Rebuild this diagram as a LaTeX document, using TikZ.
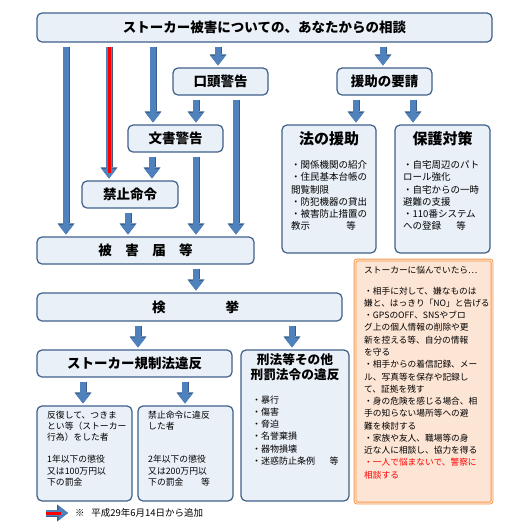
\documentclass[tikz,border=0pt]{standalone}
\usepackage{fontspec}
\setmainfont{Noto Sans CJK JP}
\usetikzlibrary{arrows.meta}
\definecolor{boxline}{HTML}{3E5F8A}
\definecolor{boxfill}{HTML}{EAF0F8}
\definecolor{arrowfill}{HTML}{4F81BD}
\definecolor{arrowline}{HTML}{385D8A}
\definecolor{notefill}{HTML}{FDE5D5}
\definecolor{noteline}{HTML}{F79646}
\tikzset{
  box/.style={draw=boxline, fill=boxfill, line width=1.2pt, rounded corners=5pt, inner sep=0pt},
  boxtitle/.style={font=\bfseries\fontsize{13.5}{16}\selectfont},
  bigtitle/.style={font=\bfseries\fontsize{15}{18}\selectfont, inner sep=0pt},
  listtext/.style={font=\fontsize{9.5}{12.3}\selectfont, align=left, anchor=base west, inner sep=0pt},
  smalltext/.style={font=\fontsize{8.8}{11}\selectfont, align=left, anchor=base west, inner sep=0pt},
  notebox/.style={draw=noteline, double=notefill!60!white, double distance=1pt, line width=0.9pt, fill=notefill, rounded corners=2pt},
  blockarrow/.style={draw=arrowfill, line width=5.5pt, shorten <=4pt, shorten >=2pt,
    -{Triangle[length=9.5pt,width=15pt,line width=0pt]},
    preaction={draw=arrowline, line width=7pt, -{Triangle[length=11pt,width=17pt,line width=0pt]}}},
  redarrow/.style={blockarrow, postaction={draw=red, line width=3pt, -, shorten >=7pt}}
}
\begin{document}
\begin{tikzpicture}[x=1pt,y=-1pt]
\useasboundingbox (0,0) rectangle (521,531);
\node[box, boxtitle, minimum width=455pt, minimum height=29pt] (consult) at (264.5,27.5) {ストーカー被害についての、あなたからの相談};
\node[box, boxtitle, minimum width=95pt, minimum height=27pt] (oral) at (220.5,81.5) {口頭警告};
\node[box, boxtitle, minimum width=95pt, minimum height=27pt] (aid) at (384.5,81.5) {援助の要請};
\node[box, boxtitle, minimum width=95pt, minimum height=27pt] (written) at (175.5,138.5) {文書警告};
\node[box, boxtitle, minimum width=96pt, minimum height=27pt] (order) at (130,194.5) {禁止命令};
\node[box, minimum width=94pt, minimum height=128pt] (lawaid) at (329,189) {};
\node[box, minimum width=95pt, minimum height=128pt] (protect) at (442.5,189) {};
\node[box, boxtitle, minimum width=217pt, minimum height=27pt] (report) at (145.5,250.5) {被　害　届　等};
\node[box, boxtitle, minimum width=305pt, minimum height=28pt] (arrest) at (189.5,307) {\hspace{12pt}検\hspace{60pt}挙};
\node[box, boxtitle, minimum width=195pt, minimum height=27pt] (stalkact) at (134.5,363.5) {ストーカー規制法違反};
\node[box, minimum width=108pt, minimum height=151pt] (penal) at (295,425.5) {};
\node[box, minimum width=95pt, minimum height=95pt] (repeat) at (84.5,453.5) {};
\node[box, minimum width=95pt, minimum height=95pt] (breach) at (185.5,453.5) {};
\node[notebox, minimum width=137pt, minimum height=243pt] (advice) at (423.5,381.5) {};

\node[bigtitle] (lawaid-t) at (329,139) {法の援助};
\node[listtext] (lawaid-l) at (291,229.9) {・関係機関の紹介\\・住民基本台帳の\\閲覧制限\\・防犯機器の貸出\\・被害防止措置の\\教示\hspace{3.8em}等};
\node[bigtitle] (protect-t) at (442.5,139) {保護対策};
\node[listtext] (protect-l) at (403,229.9) {・自宅周辺のパト\\ロール強化\\・自宅からの一時\\避難の支援\\・110番システム\\への登録\hspace{1.6em}等};
\node[font=\bfseries\fontsize{12.7}{15}\selectfont, align=center, inner sep=0pt] (penal-t) at (295,367.5) {刑法等その他\\刑罰法令の違反};
\node[font=\fontsize{9}{12.2}\selectfont, align=left, anchor=base west, inner sep=0pt] (penal-l) at (252,464.3) {・暴行\\・傷害\\・脅迫\\・名誉棄損\\・器物損壊\\・迷惑防止条例\hspace{1.6em}等};
\node[smalltext] (repeat-a) at (47,440.2) {反復して、つきま\\とい等（ストーカー\\行為）をした者};
\node[smalltext, font=\fontsize{8.8}{11.5}\selectfont] (repeat-b) at (47,485.5) {1年以下の懲役\\又は100万円以\\下の罰金};
\node[smalltext] (breach-a) at (148,429.2) {禁止命令に違反\\した者};
\node[smalltext, font=\fontsize{8.8}{11.5}\selectfont] (breach-b) at (148,485.5) {2年以下の懲役\\又は200万円以\\下の罰金\hspace{2em}等};
\node[font=\fontsize{8.7}{12.27}\selectfont, align=left, anchor=base west, inner sep=0pt] (advice-l) at (364,478.2) {ストーカーに悩んでいたら…\\[8.7pt]
・相手に対して、嫌なものは\\嫌と、はっきり「NO」と告げる\\・GPSのOFF、SNSやブロ\\グ上の個人情報の削除や更\\新を控える等、自分の情報\\を守る\\
・相手からの着信記録、メー\\ル、写真等を保存や記録し\\て、証拠を残す\\・身の危険を感じる場合、相\\手の知らない場所等への避\\難を検討する\\
・家族や友人、職場等の身\\近な人に相談し、協力を得る\\\textcolor{red}{・一人で悩まないで、警察に}\\\textcolor{red}{相談する}};
\coordinate (legend-a) at (46,513);
\coordinate (legend-b) at (68,513);
\node[font=\fontsize{9.5}{12}\selectfont, anchor=base west, inner sep=0pt] (legend-t) at (75,516.4) {※\hspace{0.7em}平成29年6月14日から追加};

\draw[blockarrow] (consult.south -| 66,0) -- (report.north -| 66,0);
\draw[redarrow] (consult.south -| 109,0) -- (order.north -| 109,0);
\draw[blockarrow] (consult.south -| 153,0) -- (written.north -| 153,0);
\draw[blockarrow] (consult.south -| 218,0) -- (oral.north -| 218,0);
\draw[blockarrow] (consult.south -| 383,0) -- (aid.north -| 383,0);
\draw[blockarrow] (oral.south -| 196,0) -- (written.north -| 196,0);
\draw[blockarrow] (oral.south -| 236,0) -- (report.north -| 236,0);
\draw[blockarrow] (aid.south -| 356,0) -- (lawaid.north -| 356,0);
\draw[blockarrow] (aid.south -| 413,0) -- (protect.north -| 413,0);
\draw[blockarrow] (written.south -| 152,0) -- (order.north -| 152,0);
\draw[blockarrow] (written.south -| 196,0) -- (report.north -| 196,0);
\draw[blockarrow] (order.south -| 128,0) -- (report.north -| 128,0);
\draw[blockarrow] (report.south -| 196,0) -- (arrest.north -| 196,0);
\draw[blockarrow] (arrest.south -| 138,0) -- (stalkact.north -| 138,0);
\draw[blockarrow] (arrest.south -| 292,0) -- (penal.north -| 292,0);
\draw[blockarrow] (stalkact.south -| 83,0) -- (repeat.north -| 83,0);
\draw[blockarrow] (stalkact.south -| 185,0) -- (breach.north -| 185,0);
\draw[redarrow, shorten <=0pt, shorten >=0pt, postaction={shorten >=5pt}] (legend-a) -- (legend-b);
\end{tikzpicture}
\end{document}
